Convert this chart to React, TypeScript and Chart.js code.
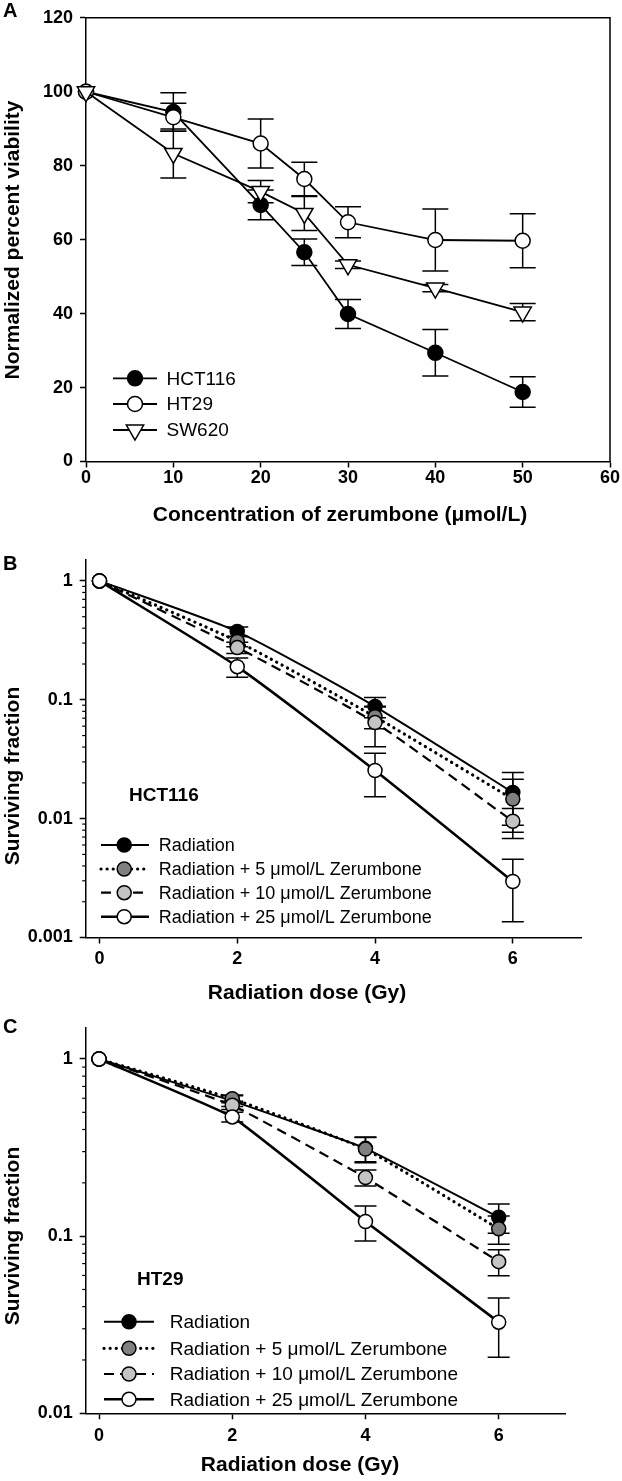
import React, { useEffect, useRef } from 'react';
import { Chart, registerables } from 'chart.js';
Chart.register(...registerables);

const FONT = '"Liberation Sans", Arial, Helvetica, sans-serif';

// ---------- Panel A data ----------
const concA = [0, 10, 20, 25, 30, 40, 50];
const hct116A = [100, 94.5, 69.4, 56.6, 39.9, 29.4, 18.8];
const hct116AErr = [0, 5.2, 4.0, 3.6, 3.9, 6.3, 4.1];
const ht29A = [100, 93.1, 86.0, 76.4, 64.7, 59.9, 59.7];
const ht29AErr = [0, 3.8, 6.6, 4.5, 4.2, 8.4, 7.3];
const sw620A = [100, 83.3, 73.0, 67.1, 53.2, 46.9, 40.4];
const sw620AErr = [0, 6.6, 3.0, 4.6, 1.0, 1.0, 2.3];
const xTicksA = [0, 10, 20, 30, 40, 50, 60];
const yTicksA = [0, 20, 40, 60, 80, 100, 120];
const seriesA = ['HCT116', 'HT29', 'SW620'];

// ---------- Panel B data (HCT116) ----------
const doses = [0, 2, 4, 6];
const radB = [1, 0.375, 0.0877, 0.0166];
const radBErr = [0, 0.035, 0.017, 0.0078];
const z5B = [1, 0.31, 0.072, 0.0146];
const z5BErr = [0, 0.03, 0.015, 0.0069];
const z10B = [1, 0.275, 0.0643, 0.0095];
const z10BErr = [0, 0.03, 0.024, 0.0027];
const z25B = [1, 0.19, 0.0254, 0.00296];
const z25BErr = [0, 0.035, 0.0101, 0.0016];

// ---------- Panel C data (HT29) ----------
const radC = [1, 0.58, 0.313, 0.128];
const radCErr = [0, 0.04, 0.05, 0.024];
const z5C = [1, 0.597, 0.31, 0.11];
const z5CErr = [0, 0.03, 0.05, 0.02];
const z10C = [1, 0.548, 0.214, 0.0718];
const z10CErr = [0, 0.03, 0.022, 0.012];
const z25C = [1, 0.471, 0.121, 0.0327];
const z25CErr = [0, 0.03, 0.027, 0.012];

const doseTicks = [0, 2, 4, 6];
const logLabelsB = [0.001, 0.01, 0.1, 1];
const logLabelsC = [0.01, 0.1, 1];
const seriesRad = [
  'Radiation',
  'Radiation + 5 \u03bcmol/L Zerumbone',
  'Radiation + 10 \u03bcmol/L Zerumbone',
  'Radiation + 25 \u03bcmol/L Zerumbone',
];

// ---------- styles ----------
const radStyles = [
  { fill: '#000000', dash: [] as number[], width: 2, cap: 'butt' },
  { fill: '#808080', dash: [0.1, 6], width: 3.2, cap: 'round' },
  { fill: '#c4c4c4', dash: [10, 6], width: 2.2, cap: 'butt' },
  { fill: '#ffffff', dash: [] as number[], width: 2.6, cap: 'butt' },
];
const aStyles = [
  { fill: '#000000', pointStyle: 'circle', rotation: 0, radius: 7.5 },
  { fill: '#ffffff', pointStyle: 'circle', rotation: 0, radius: 7.5 },
  { fill: '#ffffff', pointStyle: 'triangle', rotation: 180, radius: 10 },
];

function minorLogTicks(minExp: number) {
  const out: number[] = [];
  for (let e = minExp; e < 0; e++) {
    const d = Math.pow(10, e);
    for (let k = 1; k <= 9; k++) out.push(Number((k * d).toPrecision(3)));
  }
  out.push(1);
  return out;
}

// ---------- plugins ----------
const errorBarsPlugin = {
  id: 'errorBars',
  beforeDatasetsDraw(chart: any, _a: any, opts: any) {
    const { ctx } = chart;
    const ys = chart.scales.y;
    chart.data.datasets.forEach((ds: any, i: number) => {
      const errs = ds.errorValues;
      if (!errs) return;
      const meta = chart.getDatasetMeta(i);
      ctx.save();
      ctx.strokeStyle = '#000';
      ctx.lineWidth = opts.lineWidth || 1.5;
      ctx.setLineDash([]);
      meta.data.forEach((pt: any, j: number) => {
        const e = errs[j];
        if (!e) return;
        const v = ds.data[j].y;
        const lo = v - e;
        const hi = v + e;
        const yHi = ys.getPixelForValue(hi);
        const yLo = ys.getPixelForValue(lo > 0 ? lo : v * 0.01);
        const x = pt.x;
        const c = opts.cap;
        ctx.beginPath();
        ctx.moveTo(x, yHi);
        ctx.lineTo(x, yLo);
        ctx.moveTo(x - c, yHi);
        ctx.lineTo(x + c, yHi);
        ctx.moveTo(x - c, yLo);
        ctx.lineTo(x + c, yLo);
        ctx.stroke();
      });
      ctx.restore();
    });
  },
};

const boxPlugin = {
  id: 'box',
  afterDraw(chart: any, _a: any, opts: any) {
    if (!opts || !opts.show) return;
    const { ctx, chartArea } = chart;
    ctx.save();
    ctx.strokeStyle = '#000';
    ctx.lineWidth = 1.5;
    ctx.beginPath();
    ctx.moveTo(chartArea.left, chartArea.top);
    ctx.lineTo(chartArea.right, chartArea.top);
    ctx.lineTo(chartArea.right, chartArea.bottom);
    ctx.stroke();
    ctx.restore();
  },
};

const minorTicksPlugin = {
  id: 'minorTicks',
  afterDraw(chart: any, _a: any, opts: any) {
    if (!opts || !opts.labels) return;
    const { ctx } = chart;
    const ys = chart.scales.y;
    const x0 = chart.chartArea.left;
    ctx.save();
    ctx.strokeStyle = '#000';
    ctx.lineWidth = 1.2;
    ys.ticks.forEach((t: any) => {
      if (opts.labels.includes(t.value)) return;
      const y = ys.getPixelForValue(t.value);
      ctx.beginPath();
      ctx.moveTo(x0 - 3.5, y);
      ctx.lineTo(x0, y);
      ctx.stroke();
    });
    ctx.restore();
  },
};

function drawMarker(ctx: any, style: string, rotation: number, r: number, x: number, y: number) {
  ctx.beginPath();
  if (style === 'triangle') {
    let rad = (rotation * Math.PI) / 180;
    ctx.moveTo(x + Math.sin(rad) * r, y - Math.cos(rad) * r);
    rad += (2 * Math.PI) / 3;
    ctx.lineTo(x + Math.sin(rad) * r, y - Math.cos(rad) * r);
    rad += (2 * Math.PI) / 3;
    ctx.lineTo(x + Math.sin(rad) * r, y - Math.cos(rad) * r);
    ctx.closePath();
  } else {
    ctx.arc(x, y, r, 0, Math.PI * 2);
  }
  ctx.fill();
  ctx.stroke();
}

const legendPlugin = {
  id: 'customLegend',
  afterDraw(chart: any, _a: any, opts: any) {
    if (!opts || !opts.items) return;
    const { ctx } = chart;
    ctx.save();
    opts.items.forEach((it: any, i: number) => {
      const y = opts.ys[i];
      ctx.strokeStyle = '#000';
      ctx.lineWidth = it.width;
      ctx.lineCap = it.cap || 'butt';
      ctx.setLineDash(it.dash || []);
      ctx.beginPath();
      ctx.moveTo(opts.x0, y);
      ctx.lineTo(opts.x1, y);
      ctx.stroke();
      ctx.setLineDash([]);
      ctx.lineCap = 'butt';
      ctx.lineWidth = 1.5;
      ctx.fillStyle = it.fill;
      drawMarker(ctx, it.pointStyle || 'circle', it.rotation || 0, it.radius, opts.xm, y);
      ctx.fillStyle = '#000';
      ctx.font = `${opts.size}px ${FONT}`;
      ctx.textAlign = 'left';
      ctx.textBaseline = 'middle';
      ctx.fillText(it.label, opts.xt, y + 1);
    });
    ctx.restore();
  },
};

const textsPlugin = {
  id: 'texts',
  afterDraw(chart: any, _a: any, opts: any) {
    if (!opts || !opts.items) return;
    const { ctx } = chart;
    ctx.save();
    opts.items.forEach((t: any) => {
      ctx.save();
      ctx.fillStyle = '#000';
      ctx.font = `${t.bold ? 'bold ' : ''}${t.size}px ${FONT}`;
      ctx.textAlign = t.align || 'center';
      ctx.textBaseline = 'middle';
      ctx.translate(t.x, t.y);
      if (t.rotate) ctx.rotate((t.rotate * Math.PI) / 180);
      ctx.fillText(t.text, 0, 0);
      ctx.restore();
    });
    ctx.restore();
  },
};

const tickFont = { family: FONT, size: 18, weight: 'bold' as const };

function axisX(min: number, max: number, ticks: number[], height: number, padding: number) {
  return {
    type: 'linear' as const,
    min,
    max,
    afterBuildTicks: (s: any) => {
      s.ticks = ticks.map((v) => ({ value: v }));
    },
    afterFit: (s: any) => {
      s.height = height;
    },
    ticks: { font: tickFont, color: '#000', padding, autoSkip: false, maxRotation: 0, callback: (v: any) => String(v) },
    grid: { display: true, drawOnChartArea: false, drawTicks: true, tickLength: 6, tickColor: '#000', tickWidth: 1.5 },
    border: { display: true, color: '#000', width: 1.5 },
  };
}

// ---------- configs ----------
function configA() {
  const vals = [hct116A, ht29A, sw620A];
  const errs = [hct116AErr, ht29AErr, sw620AErr];
  const orders = [2, 1, 0];
  return {
    type: 'line' as const,
    data: {
      datasets: seriesA.map((label, i) => ({
        label,
        data: concA.map((x, j) => ({ x, y: vals[i][j] })),
        errorValues: errs[i],
        borderColor: '#000',
        borderWidth: 1.8,
        backgroundColor: aStyles[i].fill,
        pointBackgroundColor: aStyles[i].fill,
        pointBorderColor: '#000',
        pointBorderWidth: 1.5,
        pointRadius: aStyles[i].radius,
        pointStyle: aStyles[i].pointStyle,
        pointRotation: aStyles[i].rotation,
        tension: 0,
        clip: false,
        order: orders[i],
      })),
    },
    options: {
      responsive: false,
      animation: false,
      layout: { padding: { top: 15, right: 12, left: 0, bottom: 0 } },
      plugins: {
        legend: { display: false },
        tooltip: { enabled: false },
        errorBars: { cap: 13 },
        box: { show: true },
        customLegend: {
          items: seriesA.map((label, i) => ({ label, fill: aStyles[i].fill, pointStyle: aStyles[i].pointStyle, rotation: aStyles[i].rotation, radius: aStyles[i].radius, width: 1.8, dash: [] })),
          x0: 113, x1: 157, xm: 135, xt: 166.5, ys: [378.3, 404, 430], size: 19,
        },
        texts: {
          items: [
            { text: 'A', x: 3, y: 11, size: 20, bold: true, align: 'left' },
            { text: 'Concentration of zerumbone (\u03bcmol/L)', x: 340, y: 515, size: 21, bold: true },
            { text: 'Normalized percent viability', x: 13, y: 240, size: 21, bold: true, rotate: -90 },
          ],
        },
      },
      scales: {
        x: axisX(0, 60, xTicksA, 68.5, 0),
        y: {
          type: 'linear' as const,
          min: 0,
          max: 120,
          afterBuildTicks: (s: any) => {
            s.ticks = yTicksA.map((v) => ({ value: v }));
          },
          afterFit: (s: any) => {
            s.width = 86;
          },
          ticks: { font: tickFont, color: '#000', padding: 7, autoSkip: false, callback: (v: any) => String(v) },
          grid: { display: true, drawOnChartArea: false, drawTicks: true, tickLength: 6, tickColor: '#000', tickWidth: 1.5 },
          border: { display: true, color: '#000', width: 1.5 },
        },
      },
    },
    plugins: [errorBarsPlugin, boxPlugin, legendPlugin, textsPlugin],
  };
}

function configRad(
  vals: number[][],
  errs: number[][],
  labels: number[],
  minExp: number,
  tension: number,
  geo: any,
) {
  const orders = [3, 2, 1, 0];
  const tickVals = minorLogTicks(minExp);
  return {
    type: 'line' as const,
    data: {
      datasets: seriesRad.map((label, i) => ({
        label,
        data: doses.map((x, j) => ({ x, y: vals[i][j] })),
        errorValues: errs[i],
        borderColor: '#000',
        borderWidth: radStyles[i].width,
        borderDash: radStyles[i].dash,
        borderCapStyle: radStyles[i].cap,
        backgroundColor: radStyles[i].fill,
        pointBackgroundColor: radStyles[i].fill,
        pointBorderColor: '#000',
        pointBorderWidth: 1.5,
        pointRadius: 7,
        pointStyle: 'circle',
        tension,
        clip: false,
        order: orders[i],
      })),
    },
    options: {
      responsive: false,
      animation: false,
      layout: { padding: { top: geo.top, right: geo.right, left: 0, bottom: 0 } },
      plugins: {
        legend: { display: false },
        tooltip: { enabled: false },
        errorBars: { cap: 11 },
        minorTicks: { labels },
        customLegend: {
          items: seriesRad.map((label, i) => ({ label, fill: radStyles[i].fill, radius: 7, width: radStyles[i].width, dash: radStyles[i].dash, cap: radStyles[i].cap })),
          x0: geo.lx0, x1: geo.lx1, xm: geo.lxm, xt: geo.lxt, ys: geo.lys, size: geo.lsize,
        },
        texts: { items: geo.texts },
      },
      scales: {
        x: axisX(-0.2, 7, doseTicks, geo.xh, geo.xpad),
        y: {
          type: 'logarithmic' as const,
          min: Math.pow(10, minExp),
          max: 1.5,
          afterBuildTicks: (s: any) => {
            s.ticks = tickVals.map((v) => ({ value: v, major: labels.includes(v) }));
          },
          afterFit: (s: any) => {
            s.width = 85.7;
          },
          ticks: {
            font: tickFont,
            color: '#000',
            padding: 7,
            autoSkip: false,
            callback: (v: any) => (labels.includes(v) ? String(v) : ''),
          },
          grid: {
            display: true,
            drawOnChartArea: false,
            drawTicks: true,
            tickLength: 6,
            tickWidth: 1.5,
            tickColor: (ctx: any) => (ctx.tick && labels.includes(ctx.tick.value) ? '#000' : 'rgba(0,0,0,0)'),
          },
          border: { display: true, color: '#000', width: 1.5 },
        },
      },
    },
    plugins: [errorBarsPlugin, minorTicksPlugin, legendPlugin, textsPlugin],
  };
}

function configB() {
  return configRad(
    [radB, z5B, z10B, z25B],
    [radBErr, z5BErr, z10BErr, z25BErr],
    logLabelsB,
    -3,
    0.2,
    {
      top: 30,
      right: 40.3,
      xh: 72.5,
      xpad: 5,
      lx0: 101, lx1: 149, lxm: 124.2, lxt: 158.7, lys: [315, 339, 362.7, 386.7], lsize: 18,
      texts: [
        { text: 'B', x: 3, y: 34.5, size: 20, bold: true, align: 'left' },
        { text: 'HCT116', x: 129, y: 266, size: 19, bold: true, align: 'left' },
        { text: 'Radiation dose (Gy)', x: 307, y: 463, size: 21, bold: true },
        { text: 'Surviving fraction', x: 13, y: 246, size: 21, bold: true, rotate: -90 },
      ],
    },
  );
}

function configC() {
  return configRad(
    [radC, z5C, z10C, z25C],
    [radCErr, z5CErr, z10CErr, z25CErr],
    logLabelsC,
    -2,
    0.1,
    {
      top: 16.7,
      right: 56.7,
      xh: 67.7,
      xpad: 6,
      lx0: 104, lx1: 154, lxm: 129, lxt: 169.8, lys: [311.7, 338.3, 364, 389.3], lsize: 19,
      texts: [
        { text: 'C', x: 3, y: 17.4, size: 20, bold: true, align: 'left' },
        { text: 'HT29', x: 137, y: 270, size: 19, bold: true, align: 'left' },
        { text: 'Radiation dose (Gy)', x: 300, y: 455, size: 21, bold: true },
        { text: 'Surviving fraction', x: 13, y: 226, size: 21, bold: true, rotate: -90 },
      ],
    },
  );
}

function Panel({ top, height, make }: { top: number; height: number; make: () => any }) {
  const ref = useRef<HTMLCanvasElement>(null);
  useEffect(() => {
    if (!ref.current) return;
    const chart = new Chart(ref.current, make());
    return () => chart.destroy();
  }, []);
  return (
    <canvas
      ref={ref}
      width={622}
      height={height}
      style={{ position: 'absolute', left: 0, top, width: 622, height, display: 'block' }}
    />
  );
}

export default function App() {
  return (
    <div style={{ position: 'absolute', left: 0, top: 0, width: 622, height: 1481, background: '#fff', overflow: 'hidden' }}>
      <Panel top={0} height={530} make={configA} />
      <Panel top={530} height={480} make={configB} />
      <Panel top={1010} height={471} make={configC} />
    </div>
  );
}
